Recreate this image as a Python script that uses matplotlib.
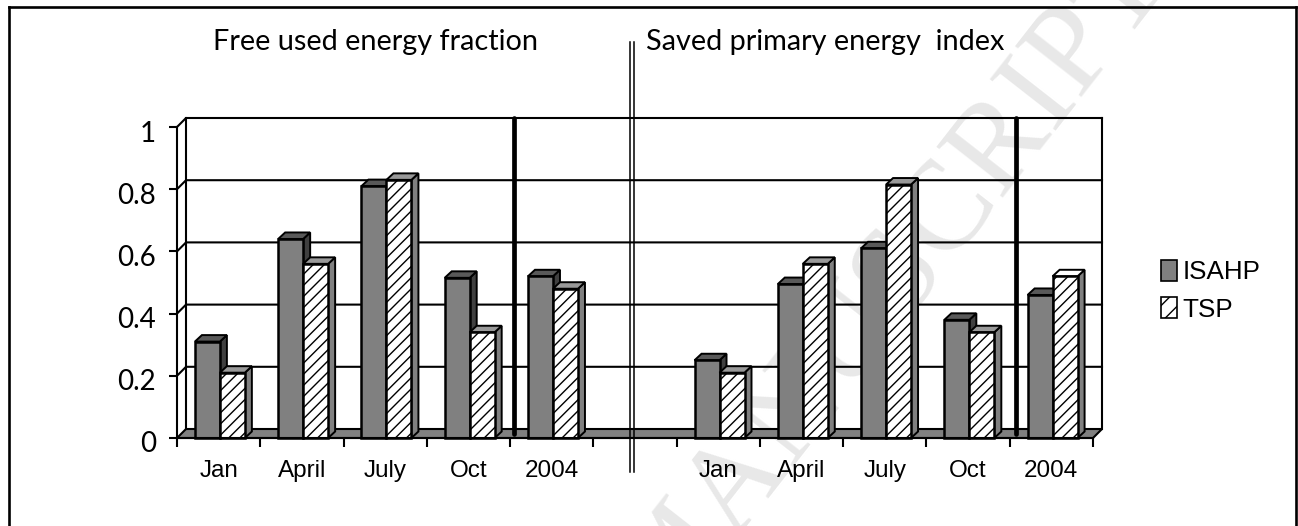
#!/usr/bin/env python3
"""Free used energy fraction / saved primary energy index, ISAHP vs TSP."""

import matplotlib
matplotlib.use("Agg")
import matplotlib.pyplot as plt
import matplotlib.patches as mpatches
from matplotlib.patches import Polygon, Rectangle
from matplotlib.transforms import ScaledTranslation

categories = ["Jan", "April", "July", "Oct", "2004", "", "Jan", "April", "July", "Oct", "2004"]
isahp = [0.31, 0.64, 0.81, 0.515, 0.52, None, 0.25, 0.495, 0.61, 0.38, 0.46]
tsp = [0.21, 0.56, 0.83, 0.34, 0.48, None, 0.21, 0.56, 0.815, 0.34, 0.52]
yticks = [0, 0.2, 0.4, 0.6, 0.8, 1]
ytick_labels = ["0", "0.2", "0.4", "0.6", "0.8", "1"]

W, H = 1298, 526
AX_L, AX_R, AX_B, AX_T = 177, 1093, 438, 127
SX = (AX_R - AX_L) / len(categories)   # px per category
SY = AX_B - AX_T                       # px per unit


def px_x(p):
    return (p - AX_L) / SX


plt.rcParams["hatch.linewidth"] = 1.0
fig = plt.figure(figsize=(W / 100, H / 100), dpi=100, facecolor="white")

# faint watermark behind the chart
fig.text(893 / W, 1 - 285 / H, "MANUSCRIPT", rotation=52, rotation_mode="anchor",
         ha="center", va="center", fontsize=92, family="Liberation Serif",
         color="#e8e8e8", zorder=0)

ax = fig.add_axes([AX_L / W, 1 - AX_B / H, (AX_R - AX_L) / W, (AX_B - AX_T) / H])
ax.set_zorder(1)
ax.patch.set_alpha(0)
ax.set_xlim(0, len(categories))
ax.set_ylim(0, 1)

floor_dx, floor_dy = 9 / SX, 9 / SY
bar_dx, bar_dy = 7 / SX, 6.5 / SY
offset, width = 0.215, 0.3

# floor, back wall and grid
ax.add_patch(Polygon([(0, 0), (len(categories), 0), (len(categories) + floor_dx, floor_dy), (floor_dx, floor_dy)],
                     closed=True, fc="#808080", ec="black", lw=1.5, clip_on=False, zorder=1))
for v in yticks[1:]:
    ax.plot([0, floor_dx, len(categories) + floor_dx], [v, v + floor_dy, v + floor_dy],
            color="black", lw=1.5, clip_on=False, zorder=1)
for x in (floor_dx, len(categories) + floor_dx):
    ax.plot([x, x], [floor_dy, 1 + floor_dy], color="black", lw=1.5, clip_on=False, zorder=1)

# thick separators standing on the floor
for p in (513.5, 1016):
    ax.plot([px_x(p), px_x(p)], [floor_dy * 0.5, 1 + floor_dy], color="black", lw=3.4,
            solid_capstyle="round", clip_on=False, zorder=2)


def bar3d(x, v, front_kw, top_fc, side_fc, z):
    ax.add_patch(Polygon([(x + width, 0), (x + width + bar_dx, bar_dy), (x + width + bar_dx, v + bar_dy), (x + width, v)],
                         closed=True, fc=side_fc, ec="black", lw=1.4, clip_on=False, zorder=z))
    ax.add_patch(Polygon([(x, v), (x + bar_dx, v + bar_dy), (x + width + bar_dx, v + bar_dy), (x + width, v)],
                         closed=True, fc=top_fc, ec="black", lw=1.4, clip_on=False, zorder=z))
    ax.add_patch(Rectangle((x, 0), width, v, ec="black", lw=1.8, clip_on=False, zorder=z, **front_kw))


for i, (a, b) in enumerate(zip(isahp, tsp)):
    if a is None:
        continue
    z = 3 + i
    bar3d(i + offset, a, {"fc": "#808080"}, "#595959", "#404040", z)
    top = "white" if i == len(categories) - 1 else "#999999"
    bar3d(i + offset + width, b, {"fc": "white", "hatch": "///"}, top, "#808080", z + 0.5)

for s in ("top", "right"):
    ax.spines[s].set_visible(False)
for s in ("left", "bottom"):
    ax.spines[s].set_linewidth(1.5)
    ax.spines[s].set_zorder(20)

ax.set_yticks(yticks)
ax.set_yticklabels(ytick_labels, family="Lato", fontsize=20)
ax.tick_params(axis="y", length=6, width=1.5, pad=9)
nudge = ScaledTranslation(0, -4 / 100, fig.dpi_scale_trans)
for lab in ax.get_yticklabels():
    lab.set_transform(lab.get_transform() + nudge)
ax.set_xticks(range(len(categories) + 1))
ax.set_xticklabels([])
ax.set_xticks([i + 0.5 for i in range(len(categories))], minor=True)
ax.set_xticklabels(categories, minor=True, family="Liberation Sans", fontsize=17.5)
ax.tick_params(axis="x", which="major", length=6.5, width=1.5)
ax.tick_params(axis="x", which="minor", length=0, pad=16)

# panel titles and the double divider
fig.text(213 / W, 1 - 42 / H, "Free used energy fraction", family="Lato", fontsize=20.8, va="center", zorder=5)
fig.text(646 / W, 1 - 42 / H, "Saved primary energy  index", family="Lato", fontsize=20.8, va="center", zorder=5)
for p in (630, 634):
    fig.add_artist(plt.Line2D([p / W, p / W], [1 - 42 / H, 1 - 472 / H], color="black", lw=1.1, zorder=30))

# outer frame, bottom edge is cut off by the page
for xs, ys in (((9, 9), (7, H)), ((9, 1296), (7, 7)), ((1296, 1296), (7, H))):
    fig.add_artist(plt.Line2D([x / W for x in xs], [1 - y / H for y in ys], color="black", lw=1.9, zorder=5))

handles = [mpatches.Patch(fc="#808080", ec="black", lw=1.2, label="ISAHP"),
           mpatches.Patch(fc="white", ec="black", lw=1.2, hatch="//", label="TSP")]
leg = fig.legend(handles=handles, loc="upper left", bbox_to_anchor=(1161 / W, 1 - 260 / H), frameon=False,
                 prop={"family": "Liberation Sans", "size": 18.7}, handlelength=0.62, handleheight=0.85,
                 handletextpad=0.2, labelspacing=0.5, borderpad=0, borderaxespad=0)
leg.set_zorder(5)

plt.savefig("out.png", dpi=100, facecolor="white")
